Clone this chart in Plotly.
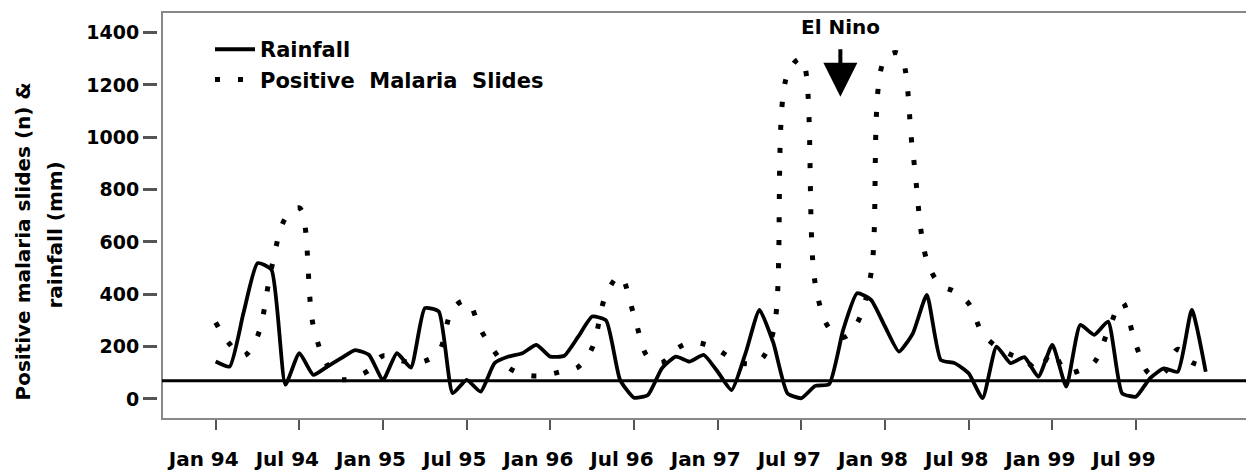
import plotly.graph_objects as go

# ---------------- data (monthly, Jan 1994 .. Dec 1999) ----------------
month_index = list(range(72))
tick_months = [0, 6, 12, 18, 24, 30, 36, 42, 48, 54, 60, 66]
tick_labels = ["Jan 94", "Jul 94", "Jan 95", "Jul 95", "Jan 96", "Jul 96",
               "Jan 97", "Jul 97", "Jan 98", "Jul 98", "Jan 99", "Jul 99"]

rainfall = [143, 124, 330, 519, 494, 55, 175, 92, 124, 156, 187, 168,
            73, 175, 120, 347, 334, 22, 73, 28, 137, 162, 175, 207,
            162, 165, 238, 315, 300, 73, 5, 15, 117, 162, 143, 168,
            104, 34, 175, 340, 213, 22, 3, 50, 57, 264, 404, 379,
            277, 181, 251, 398, 149, 137, 98, 3, 200, 137, 160, 85,
            207, 47, 283, 245, 296, 22, 9, 79, 117, 104, 340, 104]

malaria_slides = [292, 210, 165, 240, 500, 690, 730, 280, 130, 75, 85, 110,
                  165, 150, 140, 145, 180, 345, 375, 265, 180, 120, 95, 88,
                  95, 108, 122, 195, 400, 470, 320, 160, 140, 190, 215, 210,
                  188, 155, 135, 145, 260, 1240, 1300, 440, 270, 235, 290, 480,
                  1300, 1320, 940, 530, 435, 410, 365, 250, 200, 170, 150, 110,
                  180, 100, 110, 140, 260, 370, 205, 95, 100, 190, 140, 125]

y_ticks = [0, 200, 400, 600, 800, 1000, 1200, 1400]
reference_level = 70
el_nino_month = 44.8
el_nino_value = 1155

FONT = "DejaVu Sans, Arial, sans-serif"
TXT = dict(family=FONT, color="black", weight="bold")

fig = go.Figure()
fig.add_trace(go.Scatter(
    x=month_index, y=rainfall, mode="lines", name="Rainfall",
    line=dict(color="black", width=3.8, shape="spline", smoothing=0.5)))
fig.add_trace(go.Scatter(
    x=month_index, y=malaria_slides, mode="lines", name="Positive  Malaria  Slides",
    line=dict(color="black", width=5, dash="5px,18px", shape="spline", smoothing=1.0)))

# the page body adds an 8px margin, so the figure is 8px smaller than the window
dom0 = 5 / 1095
fig.update_layout(
    width=1246, height=463,
    margin=dict(l=149, r=2, t=4, b=52, autoexpand=False),
    plot_bgcolor="white", paper_bgcolor="white",
    font=dict(family=FONT, color="black"),
    showlegend=True,
    legend=dict(x=0.0484, y=0.958, xanchor="left", yanchor="top",
                bgcolor="rgba(0,0,0,0)", itemwidth=40,
                font=dict(size=21, **TXT)),
    xaxis=dict(domain=[dom0, 1], range=[-3.85, 74.32], automargin=False,
               tickvals=tick_months, ticktext=tick_labels,
               ticks="outside", ticklen=10, tickwidth=2, tickcolor="#555",
               showgrid=False, zeroline=False, showline=False,
               ticklabelshift=-12, ticklabelstandoff=12,
               tickfont=dict(size=20, **TXT)),
    yaxis=dict(anchor="free", position=0, range=[-76.5, 1478.6], automargin=False,
               tickvals=y_ticks, ticks="outside", ticklen=14, tickwidth=3,
               tickcolor="#555", showgrid=False, zeroline=False, showline=False,
               tickfont=dict(size=19, **TXT)),
)

# y-axis title (two rotated lines)
fig.add_annotation(xref="paper", yref="paper", x=-0.1228, y=0.435,
                   xanchor="center", yanchor="middle",
                   text="Positive malaria slides (n) &", textangle=-90,
                   showarrow=False, font=dict(size=20, **TXT))
fig.add_annotation(xref="paper", yref="paper", x=-0.0927, y=0.452,
                   xanchor="center", yanchor="middle",
                   text="rainfall (mm)", textangle=-90,
                   showarrow=False, font=dict(size=20, **TXT))

# plot frame
fig.add_shape(type="rect", xref="paper", yref="paper", x0=dom0, x1=1, y0=0, y1=1,
              line=dict(color="#888", width=2), layer="below")
# horizontal reference line
fig.add_shape(type="line", xref="paper", yref="y", x0=dom0, x1=1.002,
              y0=reference_level, y1=reference_level,
              line=dict(color="black", width=3))

fig.add_annotation(x=el_nino_month, y=el_nino_value, xref="x", yref="y",
                   text="El Nino", showarrow=True, arrowhead=2, arrowsize=1.7,
                   arrowwidth=4, arrowcolor="black", ax=0, ay=-70,
                   startstandoff=9, font=dict(size=20, **TXT))

fig.write_html("out.html")
